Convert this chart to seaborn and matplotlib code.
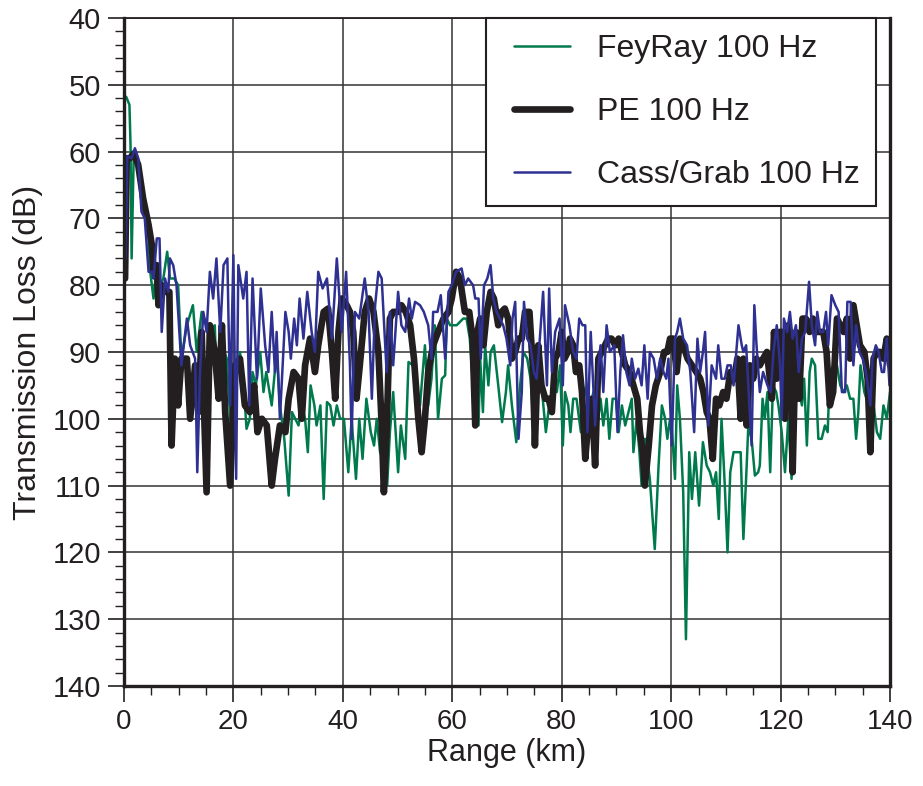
import numpy as np
import pandas as pd
import matplotlib
matplotlib.use("Agg")
import matplotlib.pyplot as plt
from matplotlib import font_manager
from matplotlib.ticker import MultipleLocator
from matplotlib.legend_handler import HandlerLine2D
import seaborn as sns


# ── Data ──────────────────────────────────────────────────────────────────────

fey_km = [0.4, 1.0, 1.2, 1.4, 1.8, 2.5, 3.5, 4.5, 4.8, 5.4, 6.0, 6.6, 7.2, 7.9, 8.4,
          9.2, 9.9, 10.5, 11.5, 12.6, 13.3, 14.2, 15.7, 16.6, 17.0, 17.9, 18.8, 19.5,
          20.3, 21.2, 21.8, 22.4, 23.0, 23.5, 24.1, 24.9, 25.5, 26.0, 26.6, 27.0, 27.9,
          28.5, 29.3, 30.1, 30.7, 31.3, 31.9, 32.5, 33.1, 33.6, 34.1, 34.8, 35.2, 35.9,
          36.5, 37.1, 37.7, 38.3, 38.9, 39.5, 40.2, 41.0, 41.6, 42.4, 43.0, 43.6, 44.3,
          45.1, 45.7, 46.2, 46.8, 47.4, 48.1, 48.6, 49.2, 50.1, 50.6, 51.4, 52.0, 52.8,
          53.5, 54.1, 55.0, 55.6, 56.2, 56.8, 57.4, 58.1, 58.7, 59.0, 59.6, 60.2, 60.8,
          62.0, 62.6, 63.2, 64.2, 64.8, 65.1, 65.6, 66.0, 66.6, 67.0, 67.6, 68.4, 69.1,
          69.8, 70.2, 70.9, 71.7, 72.4, 73.0, 73.7, 74.3, 75.1, 75.7, 76.3, 77.1, 77.7,
          78.5, 79.1, 79.7, 80.2, 80.6, 81.2, 81.6, 82.1, 82.7, 83.5, 84.0, 84.6, 85.2,
          85.8, 86.5, 87.1, 87.6, 88.2, 88.7, 89.3, 89.9, 90.4, 91.0, 91.6, 92.2, 92.8,
          93.1, 93.7, 94.2, 94.6, 95.2, 96.1, 97.0, 97.7, 98.3, 98.9, 99.3, 99.8, 100.1,
          100.7, 101.1, 101.6, 102.2, 102.7, 103.3, 103.8, 104.4, 105.1, 105.8, 106.5,
          107.1, 107.7, 108.2, 108.7, 109.2, 109.8, 110.3, 110.8, 111.4, 112.1, 112.7,
          113.2, 113.8, 114.1, 114.7, 115.3, 115.9, 116.2, 116.7, 117.1, 117.6, 118.1,
          118.6, 119.2, 119.6, 120.2, 120.8, 121.4, 122.0, 122.6, 123.2, 123.9, 124.3,
          124.8, 125.3, 125.7, 126.3, 126.9, 127.5, 128.1, 128.6, 129.0, 129.7, 130.3,
          130.9, 131.5, 132.1, 132.7, 133.3, 133.8, 134.2, 134.6, 135.3, 135.7, 136.4,
          137.0, 137.6, 138.2, 138.8, 139.4, 140.0]
fey_tl = [51.8, 53, 59, 76, 60, 61, 67, 73, 78, 82, 77, 80, 79, 75, 79,
          79, 80, 91, 86, 83, 90, 84, 87, 86, 96, 89, 91, 101,
          95, 90, 94, 101.5, 100, 93, 95, 90, 96, 93, 96, 98, 90,
          98, 103, 111.5, 99, 100, 101, 98, 100, 105, 95, 98, 101, 98,
          112, 97.5, 98, 101, 98, 100, 100, 108, 100, 109, 100, 106, 97,
          102, 104, 100, 105, 106, 110, 102, 96, 108, 101, 106, 91.5, 92,
          97, 98, 89, 98, 94, 86, 100, 94, 93.5, 85, 86, 86, 86,
          85, 85, 88, 100, 101, 91, 99, 89, 95, 90, 89, 95, 100.5,
          96, 92, 98, 103.5, 95, 90, 91, 94, 104, 95, 95, 102, 98,
          96, 96, 92, 104, 96, 98, 102, 97, 97, 102, 97, 95, 98,
          96, 101, 97, 101, 97, 103, 97, 97, 102, 98, 101, 99, 97,
          105, 100, 105, 110, 103, 109, 119.5, 107, 98, 100, 103, 100, 101,
          109, 95, 100, 111, 133, 105, 112, 105, 113, 103.5, 107,
          108, 110, 108, 115, 100, 110, 120, 108, 105, 105, 105,
          118, 107, 101, 103, 108.5, 108, 107, 97, 100, 96, 108,
          95, 96, 98, 102, 108, 100, 109, 98, 95, 98, 94,
          104, 93, 91, 92, 103, 103, 101, 102, 93, 92, 92,
          95, 96, 95, 97, 97, 103, 99, 92, 96, 97, 97,
          98, 102, 103, 98, 100, 96]

pe_km = [0.2, 0.5, 1.1, 1.8, 2.6, 3.5, 4.5, 5.1, 5.4, 6.0, 6.3, 6.9, 7.5, 8.3, 8.7,
         9.3, 9.9, 10.5, 11.5, 12.1, 13.0, 13.6, 14.2, 15.1, 15.7, 16.6, 17.3, 17.9,
         18.5, 19.4, 20.3, 21.2, 22.1, 23.0, 23.8, 24.4, 25.2, 26.1, 27.0, 27.6, 28.5,
         29.5, 30.1, 31.0, 31.9, 32.5, 33.1, 34.0, 34.9, 35.5, 36.5, 37.3, 38.0, 38.6,
         39.2, 39.8, 40.7, 41.3, 41.9, 42.5, 43.1, 44.0, 44.8, 45.6, 46.5, 47.1, 47.5,
         48.0, 48.6, 49.2, 50.1, 50.7, 51.5, 52.3, 53.0, 53.8, 54.4, 55.0, 55.6, 56.5,
         57.4, 58.4, 59.3, 59.9, 60.7, 61.4, 62.3, 63.1, 63.7, 64.2, 64.6, 65.1, 65.7,
         66.3, 67.0, 67.6, 68.4, 69.0, 69.6, 70.2, 70.9, 71.5, 72.1, 72.7, 73.3, 74.1,
         74.7, 75.1, 75.7, 76.3, 77.0, 77.6, 78.2, 78.8, 79.4, 80.0, 80.5, 81.1, 81.5,
         82.1, 82.6, 83.2, 83.7, 84.3, 84.9, 85.5, 86.1, 86.7, 87.3, 87.9, 88.5, 89.1,
         89.8, 90.4, 91.0, 91.6, 92.4, 93.1, 93.8, 94.3, 94.8, 95.2, 95.9, 96.5, 97.2,
         98.0, 98.7, 99.3, 99.8, 100.4, 101.0, 101.6, 102.2, 103.0, 103.8, 104.6, 105.3,
         105.9, 106.5, 107.0, 107.6, 108.2, 108.8, 109.5, 110.1, 110.8, 111.5, 112.1,
         112.7, 113.2, 113.8, 114.4, 115.0, 115.6, 116.2, 116.8, 117.5, 117.9, 118.4,
         118.8, 119.3, 119.8, 120.4, 120.8, 121.4, 122.0, 122.2, 122.8, 123.4, 124.0,
         124.6, 125.3, 125.9, 126.5, 127.1, 127.8, 128.4, 129.0, 129.6, 130.3, 130.9,
         131.5, 132.1, 132.7, 133.3, 133.9, 134.5, 135.3, 135.9, 136.4, 137.0, 137.6,
         138.2, 138.8, 139.4, 140.0]
pe_tl = [79, 61, 61, 60.3, 62, 67, 71, 74, 78, 77, 83, 80, 81, 81, 104,
         91, 98, 91, 91, 100, 92, 99, 87, 111, 86, 90, 97, 86,
         99, 110, 92, 91, 98, 99, 95, 102, 100, 101, 110, 106, 101,
         102, 97, 93, 94, 100, 92, 88, 93, 89, 84, 83.5, 90, 97,
         87, 82, 83, 84, 87, 97, 92, 84, 82, 84, 90, 101, 111,
         102, 85, 84, 84, 83, 84, 86, 91, 100, 105, 100, 93, 89,
         87, 85, 84, 82, 78, 79, 84, 84, 88, 101, 87, 85, 89,
         84, 81, 82, 86, 84, 83.5, 85, 91, 90, 88, 88, 84, 84,
         92, 104, 89, 95, 97, 97, 99, 91, 90, 87, 91, 90, 88,
         89, 93, 92, 96, 106, 100, 97, 107, 91, 90, 89, 88, 88,
         89, 88, 90, 92, 93, 95, 97, 102, 105, 110, 104, 98, 95,
         93, 90, 90, 88, 88, 93, 88, 89, 91, 92, 93, 94,
         96, 99, 100, 106, 97, 98, 96, 97, 93, 94, 91,
         100, 91, 101, 92, 94, 91, 92, 91, 90, 93, 97,
         87, 94, 87, 87, 100, 86, 91, 108, 87, 97, 85,
         85, 87, 85, 87, 87, 87, 90, 98, 96, 85, 86,
         87, 85, 91, 83, 86, 89, 90, 94, 105, 91, 90,
         90, 91, 88, 92]

cass_km = [0.3, 0.6, 1.4, 2.0, 2.6, 3.2, 3.8, 4.5, 5.1, 5.4, 6.0, 6.5, 6.9, 7.5, 8.1,
           8.4, 9.0, 9.6, 10.5, 11.5, 12.1, 13.0, 13.4, 13.9, 14.5, 15.1, 15.7, 16.3,
           16.9, 17.6, 18.2, 18.9, 19.4, 20.0, 20.5, 20.9, 21.8, 22.4, 22.9, 23.5, 24.3,
           25.0, 25.8, 26.4, 27.0, 27.6, 27.9, 28.5, 29.5, 30.1, 30.5, 31.1, 31.6, 32.1,
           32.8, 33.5, 34.3, 34.9, 35.5, 36.3, 37.1, 38.0, 38.9, 39.8, 40.6, 41.3, 41.6,
           42.2, 43.0, 44.0, 44.7, 45.3, 45.9, 46.5, 47.1, 48.0, 48.6, 49.2, 50.1, 50.7,
           51.4, 52.1, 52.6, 53.2, 54.1, 54.8, 55.6, 56.2, 56.5, 57.3, 57.9, 58.7, 59.3,
           59.9, 60.7, 61.7, 62.3, 62.9, 63.8, 64.2, 64.8, 65.2, 65.8, 66.4, 67.0, 67.5,
           68.1, 68.7, 69.3, 69.9, 70.6, 71.0, 71.5, 72.1, 72.7, 73.1, 73.7, 74.3, 74.9,
           75.4, 76.0, 76.6, 77.3, 77.7, 78.2, 78.8, 79.6, 80.2, 80.6, 81.4, 82.1, 82.7,
           83.2, 83.8, 84.3, 84.7, 85.3, 86.1, 86.7, 87.1, 87.6, 88.2, 88.8, 89.6, 90.2,
           90.7, 91.2, 91.8, 92.4, 92.8, 93.4, 94.0, 94.6, 95.1, 95.7, 96.1, 96.8, 97.4,
           98.0, 98.6, 99.1, 99.5, 100.1, 100.7, 101.1, 101.6, 102.2, 102.9, 103.5, 104.2,
           104.8, 105.3, 105.8, 106.2, 106.8, 107.4, 108.2, 108.6, 109.2, 109.8, 110.3,
           110.9, 111.4, 112.3, 112.9, 113.2, 113.7, 114.1, 114.7, 115.2, 115.6, 116.2,
           116.8, 117.6, 118.2, 118.7, 119.3, 119.9, 120.2, 120.6, 121.2, 121.7, 122.2,
           122.8, 123.3, 123.9, 124.5, 125.2, 125.7, 126.3, 126.7, 127.2, 127.8, 128.3,
           128.7, 129.3, 130.0, 130.6, 131.2, 131.8, 132.2, 132.8, 133.3, 133.8, 134.4,
           135.0, 135.6, 136.4, 136.8, 137.4, 137.9, 138.5, 138.9, 139.4, 139.9]
cass_tl = [76, 60.7, 61, 59.5, 61, 69, 70, 78, 78, 79, 73, 73, 87, 79, 81,
           76, 77, 80, 92, 85, 89, 91, 108, 93, 84, 87, 78, 82,
           76, 87, 77, 76, 98, 75.5, 109, 77, 82, 78, 98, 79, 94,
           80.5, 89, 93, 84, 93, 87, 100, 84, 87, 91, 85, 89, 82,
           88, 81, 87, 90, 78, 80.5, 79, 88, 76, 87, 78, 92, 103,
           84, 85, 79, 84, 97, 83, 78, 79, 93, 84, 92, 81, 86,
           87, 82, 85, 82.5, 83, 84, 86, 91, 84, 84, 81.5, 91, 81,
           80, 78, 77.5, 80, 79, 80, 82, 82, 91, 80, 79, 77, 82,
           84, 85, 86, 88, 92, 85, 82.5, 103, 96, 82.5, 88, 89, 93,
           94, 88, 81, 95, 80.5, 93, 87, 85, 95, 83, 86, 90, 91,
           85, 86, 86, 102, 87, 101, 92, 89, 96, 86, 90, 89, 102,
           93, 87.5, 93, 95, 91, 94, 92.5, 95, 89, 97, 90, 91, 94,
           91, 93, 94, 91, 104, 88, 87, 85, 88, 89, 93, 102,
           88, 93, 90, 87, 101, 92, 94, 89, 94, 94, 92,
           92, 95, 86, 89, 90, 89, 95, 104, 83, 89, 96,
           93, 95, 96, 90, 86, 92, 100, 85, 87, 84, 88,
           86, 93, 88, 87, 79.5, 86, 89, 84, 87, 87, 84,
           89, 81.5, 83, 84, 96, 96, 82.5, 82.5, 92, 86, 90,
           91, 93, 98, 91, 89, 90, 93, 93, 88, 95]

series_names = ["FeyRay 100 Hz", "PE 100 Hz", "Cass/Grab 100 Hz"]
series_colors = ["#007a4d", "#231f20", "#2e3192"]
series_widths = [1.8, 4.8, 1.8]

x_ticks = [0, 20, 40, 60, 80, 100, 120, 140]
y_ticks = [40, 50, 60, 70, 80, 90, 100, 110, 120, 130, 140]


# ── Plot ──────────────────────────────────────────────────────────────────────

sns.set_style("white")
plt.rcParams['font.family'] = ['Liberation Sans', 'DejaVu Sans']
ink = '#231f20'

# x tick labels in the reference are a condensed face
installed = {f.name for f in font_manager.fontManager.ttflist}
if 'Liberation Sans Narrow' in installed:
    xtick_family, xtick_size = 'Liberation Sans Narrow', 23
else:
    xtick_family, xtick_size = 'Liberation Sans', 20

df = pd.concat([
    pd.DataFrame({"range": fey_km, "tl": fey_tl, "model": series_names[0]}),
    pd.DataFrame({"range": pe_km, "tl": pe_tl, "model": series_names[1]}),
    pd.DataFrame({"range": cass_km, "tl": cass_tl, "model": series_names[2]}),
])

fig = plt.figure(figsize=(9.23, 7.86), dpi=100)
ax = fig.add_axes([0.1343, 0.1272, 0.830, 0.850])

for name, color, lw in zip(series_names, series_colors, series_widths):
    sns.lineplot(data=df[df["model"] == name], x="range", y="tl",
                 color=color, linewidth=lw, estimator=None, sort=False,
                 label=name, ax=ax)

ax.set_xlim(0, 140)
ax.set_ylim(140, 40)
ax.set_xticks(x_ticks)
ax.set_yticks(y_ticks)
ax.xaxis.set_minor_locator(MultipleLocator(5))
ax.yaxis.set_minor_locator(MultipleLocator(2))

ax.grid(True, which='major', color='#333333', linewidth=1.1)
ax.set_axisbelow(True)

for side in ['left', 'bottom', 'right', 'top']:
    ax.spines[side].set_color(ink)
    ax.spines[side].set_linewidth(1.3)
ax.spines['left'].set_linewidth(2.4)
ax.spines['bottom'].set_linewidth(2.4)
ax.spines['right'].set_linewidth(2.4)

ax.tick_params(axis='both', which='major', direction='out', length=11.5, width=1.2,
               color=ink, labelcolor=ink)
ax.tick_params(axis='both', which='minor', direction='out', length=6.5, width=1.0,
               color=ink)
ax.tick_params(axis='y', which='major', labelsize=21, pad=5)
ax.tick_params(axis='x', which='major', labelsize=xtick_size, pad=5,
               labelfontfamily=xtick_family)
ax.tick_params(left=True, bottom=True, which='both')

ax.set_xlabel("Range (km)", fontsize=22, color=ink, labelpad=2)
ax.set_ylabel("Transmission Loss (dB)", fontsize=23, color=ink, labelpad=7)

# legend: line handles start a little in from the frame, as in the reference
leg = ax.legend(loc='upper right', bbox_to_anchor=(0.9817, 1.0), borderaxespad=0,
                fontsize=23, frameon=True, fancybox=False, framealpha=1,
                edgecolor=ink, handlelength=2.12, handletextpad=0.85,
                labelspacing=1.04, borderpad=0.5,
                handler_map={matplotlib.lines.Line2D: HandlerLine2D(xpad=0.36)})
leg.get_frame().set_linewidth(1.5)
for txt in leg.get_texts():
    txt.set_color(ink)

fig.savefig("out.png", dpi=100)
